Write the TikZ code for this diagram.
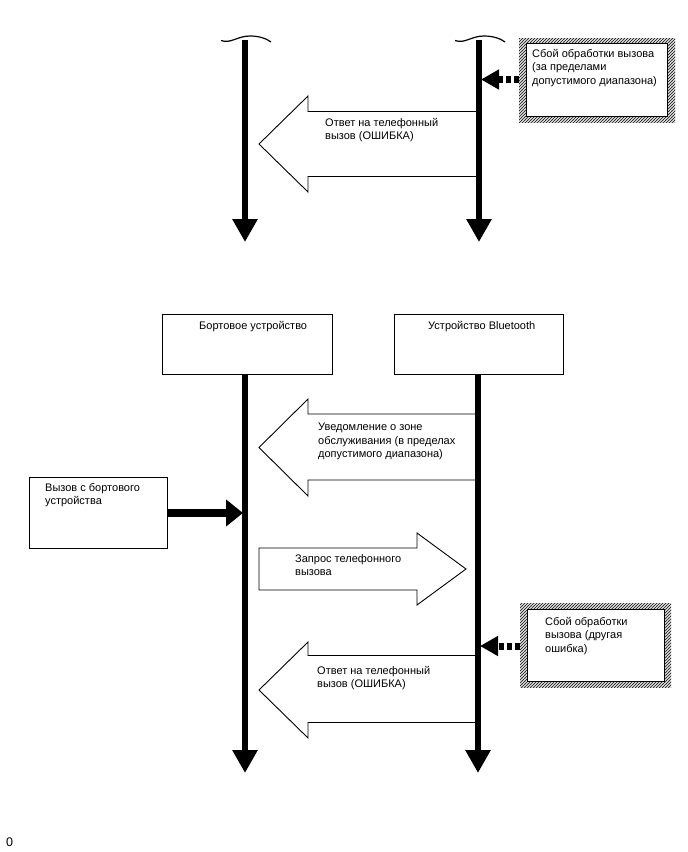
\documentclass[tikz,border=0pt]{standalone}
\usepackage{fontspec}
\setmainfont{Liberation Sans}
\usetikzlibrary{arrows.meta,patterns}
\pgfdeclarepatternformonly{hatchne}{\pgfpoint{-1pt}{-1pt}}{\pgfpoint{4pt}{4pt}}{\pgfpoint{3pt}{3pt}}{%
  \pgfsetlinewidth{0.75pt}%
  \pgfpathmoveto{\pgfpoint{-0.1pt}{-0.1pt}}%
  \pgfpathlineto{\pgfpoint{3.1pt}{3.1pt}}%
  \pgfusepath{stroke}}
\begin{document}
\begin{tikzpicture}[x=1pt,y=-1pt,
  txt/.style={font=\fontsize{11}{13.5}\selectfont, anchor=north west, inner sep=0pt, align=left},
  lifeline/.style={line width=6pt, -{Triangle[width=24pt,length=23pt]}},
  blockarrow/.style={draw=black, line width=0.9pt, fill=white, line join=miter},
  plainbox/.style={draw=black, line width=1.2pt, fill=white, anchor=north west, inner sep=0pt},
  hatchbox/.style={pattern=hatchne, pattern color=black!80, anchor=north west, inner sep=0pt},
  failarrow/.style={line width=7pt, dash pattern=on 5.5pt off 2.5pt, -{Triangle[width=19pt,length=18pt]}},
  callarrow/.style={line width=8pt, -{Triangle[width=26pt,length=17pt]}},
  wave/.style={line width=1.2pt}
]
\useasboundingbox (0,0) rectangle (688,852);

% ---------- top section ----------
\draw[blockarrow] (478,111.5) -- (308,111.5) -- (308,96) -- (259,144) -- (308,192) -- (308,176.5) -- (478,176.5) -- cycle;
\node[txt] (resp1) at (325,118) {Ответ на телефонный\\вызов (ОШИБКА)};

\coordinate (L1top) at (245,40);
\coordinate (L1bot) at (245,242);
\coordinate (R1top) at (479,40);
\coordinate (R1bot) at (479,242);
\draw[lifeline] (L1top) -- (L1bot);
\draw[lifeline] (R1top) -- (R1bot);
\foreach \x in {245,479}{
  \draw[wave] (\x-24,40.5) .. controls (\x-14,44) and (\x-8,36) .. (\x+5,36) .. controls (\x+15,36) and (\x+22,39) .. (\x+26,42);
}

\node[hatchbox, minimum width=156pt, minimum height=84pt] (fail1h) at (519,38) {};
\node[plainbox, minimum width=141pt, minimum height=73pt] (fail1) at (526,43) {};
\node[txt] (fail1t) at (532,49) {Сбой обработки вызова\\(за пределами\\допустимого диапазона)};
\coordinate (R1hit) at (481,79.5);
\draw[failarrow] (fail1h.west |- R1hit) -- (R1hit);

% ---------- bottom section ----------
\node[plainbox, minimum width=170pt, minimum height=60pt] (onboard) at (162,314) {};
\node[txt] (onboardt) at (199,321) {Бортовое устройство};
\node[plainbox, minimum width=169pt, minimum height=60pt] (btdev) at (394,314) {};
\node[txt] (btdevt) at (428,321) {Устройство Bluetooth};

% notification arrow (left)
\draw[blockarrow] (478,414) -- (308,414) -- (308,399) -- (259,447.5) -- (308,496) -- (308,480) -- (478,480) -- cycle;
\node[txt] (notify) at (318,423) {Уведомление о зоне\\обслуживания (в пределах\\допустимого диапазона)};

% request arrow (right)
\draw[blockarrow] (259,548) -- (417,548) -- (417,533) -- (466,569) -- (417,605) -- (417,590) -- (259,590) -- cycle;
\node[txt] (req) at (295,554) {Запрос телефонного\\вызова};

% error response arrow (left)
\draw[blockarrow] (478,655.5) -- (308,655.5) -- (308,642) -- (259,690) -- (308,738) -- (308,722.5) -- (478,722.5) -- cycle;
\node[txt] (resp2) at (317,666) {Ответ на телефонный\\вызов (ОШИБКА)};

\coordinate (L2top) at (245,374);
\coordinate (L2bot) at (245,773);
\coordinate (R2top) at (478,374);
\coordinate (R2bot) at (478,773);
\draw[lifeline] (L2top) -- (L2bot);
\draw[lifeline] (R2top) -- (R2bot);

% call from onboard device
\node[plainbox, minimum width=138pt, minimum height=71pt] (callbox) at (29,477) {};
\node[txt] (callt) at (45,483) {Вызов с бортового\\устройства};
\coordinate (L2hit) at (243,513);
\draw[callarrow] (callbox.east |- L2hit) -- (L2hit);

% failure (other error)
\node[hatchbox, minimum width=151pt, minimum height=84pt] (fail2h) at (520,603) {};
\node[plainbox, minimum width=137pt, minimum height=72pt] (fail2) at (527,609) {};
\node[txt] (fail2t) at (545,617) {Сбой обработки\\вызова (другая\\ошибка)};
\coordinate (R2hit) at (480,646);
\draw[failarrow] (fail2h.west |- R2hit) -- (R2hit);

\node[txt, font=\fontsize{12.5}{14}\selectfont] (zero) at (6,838) {0};
\end{tikzpicture}
\end{document}
